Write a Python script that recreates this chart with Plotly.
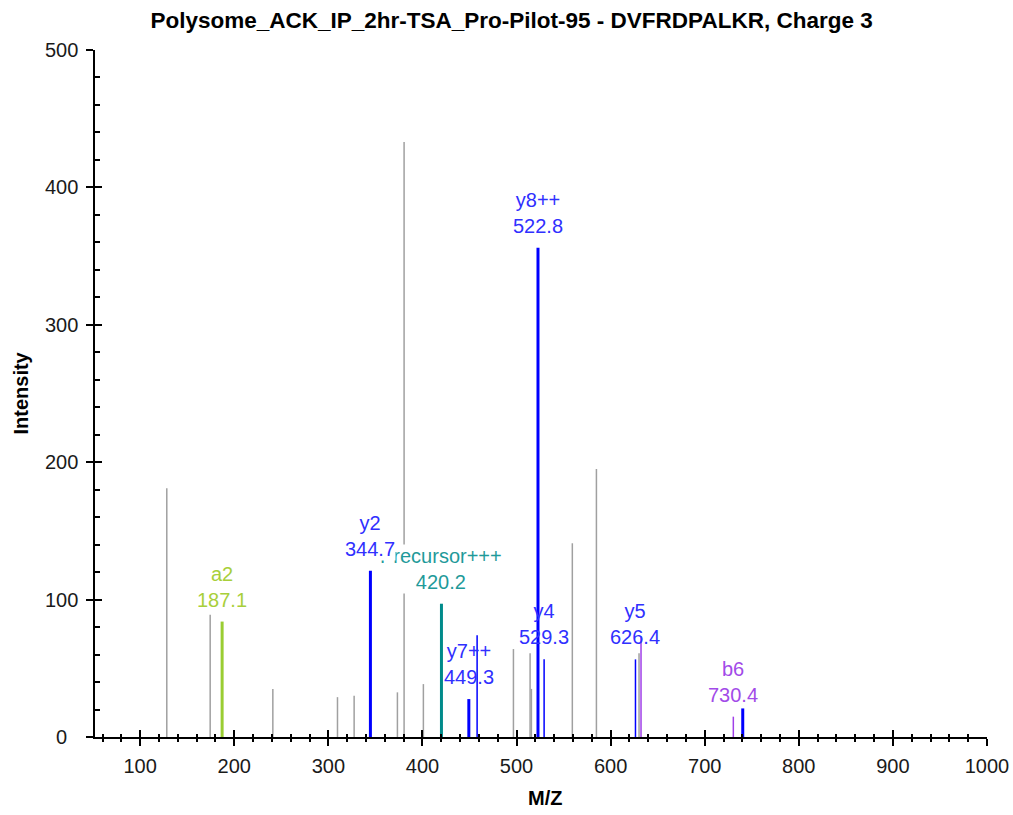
import plotly.graph_objects as go

# ---------------- data ----------------
title_text = "Polysome_ACK_IP_2hr-TSA_Pro-Pilot-95 - DVFRDPALKR, Charge 3"

# unmatched (gray) peaks
gray_mz = [128.3, 174.4, 241.0, 309.7, 327.4, 373.4, 380.5, 401.0,
           496.7, 514.4, 515.8, 559.3, 584.9, 630.2]
gray_int = [181, 89, 35, 29, 30, 32.5, 433, 38.5,
            64, 61, 35, 141, 195, 61]

# labelled, matched fragment peaks
ion_names = ["a2", "y2", "Precursor+++", "y7++", "y8++", "y4", "y5", "b6"]
ion_mz = [187.1, 344.7, 420.2, 449.3, 522.8, 529.3, 626.4, 730.4]
ion_int = [84, 121, 97, 27.6, 356, 56.5, 56.5, 14.8]

# matched peaks whose labels are not shown
extra_types = ["y", "b", "y"]
extra_mz = [458.1, 632.3, 740.4]
extra_int = [74, 73, 20.8]

x_ticks = [100, 200, 300, 400, 500, 600, 700, 800, 900, 1000]
y_ticks = [0, 100, 200, 300, 400, 500]

# ---------------- styles ----------------
FONT = "Liberation Sans, Arial, sans-serif"
GRAY = "#a0a0a0"
type_color = {"a": "#9acd32", "y": "#0000ff", "b": "#a040e8", "P": "#008b8b"}
label_color = {"a": "#a8cf3a", "y": "#3030ff", "b": "#a24be8", "P": "#1f9a9a"}
thick = {"a2", "y2", "Precursor+++", "y7++", "y8++", "extra2"}
opaque_labels = {"Precursor+++", "y2"}
draw_order = ["a2", "Precursor+++", "y2", "y7++", "y8++", "y4", "y5", "b6"]


def sticks(mzs, ints):
    xs, ys = [], []
    for m, v in zip(mzs, ints):
        xs += [m, m, None]
        ys += [0, v, None]
    return xs, ys


fig = go.Figure()

gx, gy = sticks(gray_mz, gray_int)
fig.add_trace(go.Scatter(x=gx, y=gy, mode="lines",
                         line=dict(color=GRAY, width=1.5),
                         hoverinfo="skip", showlegend=False))

for i, (t, m, v) in enumerate(zip(extra_types, extra_mz, extra_int)):
    xs, ys = sticks([m], [v])
    w = 3 if f"extra{i}" in thick else 1.5
    fig.add_trace(go.Scatter(x=xs, y=ys, mode="lines",
                             line=dict(color=type_color[t], width=w),
                             hoverinfo="skip", showlegend=False))

for name, m, v in zip(ion_names, ion_mz, ion_int):
    xs, ys = sticks([m], [v])
    w = 3 if name in thick else 1.5
    fig.add_trace(go.Scatter(x=xs, y=ys, mode="lines",
                             line=dict(color=type_color[name[0]], width=w),
                             hoverinfo="skip", showlegend=False))

# dummy trace for overlay axes (inner halves of ticks)
fig.add_trace(go.Scatter(x=[None], y=[None], xaxis="x2", yaxis="y2",
                         hoverinfo="skip", showlegend=False))

annotations = []
for name in draw_order:
    i = ion_names.index(name)
    m, v = ion_mz[i], ion_int[i]
    annotations.append(dict(
        x=m, y=v, xref="x", yref="y",
        text=f"{name}<br>{m:.1f}", showarrow=False,
        xanchor="center", yanchor="bottom", yshift=10,
        font=dict(family=FONT, size=20, color=label_color[name[0]]),
        bgcolor="white" if name in opaque_labels else "rgba(0,0,0,0)",
        borderpad=0,
    ))

for v in y_ticks:
    annotations.append(dict(
        x=0, xref="paper", y=v, yref="y", xshift=-34,
        text=str(v), showarrow=False, xanchor="center", yanchor="middle",
        font=dict(family=FONT, size=20, color="#1a1a1a"),
    ))

annotations.append(dict(
    x=0, xref="paper", y=0.5, yref="paper", xshift=-75,
    text="<b>Intensity</b>", textangle=-90, showarrow=False,
    xanchor="center", yanchor="middle",
    font=dict(family=FONT, size=20, color="black"),
))
annotations.append(dict(
    x=0.5, xref="paper", y=0, yref="paper", yshift=-61, xshift=4,
    text="<b>M/Z</b>", showarrow=False,
    xanchor="center", yanchor="middle",
    font=dict(family=FONT, size=20, color="black"),
))

XR = [52, 1000]
YR = [0, 500]

fig.update_layout(
    width=1013, height=815,
    margin=dict(l=95, r=26, t=50, b=78, autoexpand=False),
    paper_bgcolor="white", plot_bgcolor="white",
    title=dict(text=f"<b>{title_text}</b>", x=0.505, xanchor="center",
               y=1 - 20 / 815, yanchor="middle", yref="container",
               font=dict(family=FONT, size=22.5, color="black")),
    xaxis=dict(range=XR, tickvals=x_ticks, ticks="outside", ticklen=7,
               tickwidth=1.5, tickcolor="black", automargin=False,
               minor=dict(dtick=20, tick0=0, ticks="outside", ticklen=3,
                          tickwidth=1.5, tickcolor="black"),
               showline=True, linecolor="black", linewidth=2,
               showgrid=False, zeroline=False, ticklabelstandoff=3,
               tickfont=dict(family=FONT, size=20, color="#1a1a1a")),
    yaxis=dict(range=YR, tickvals=y_ticks, ticks="outside", ticklen=7,
               tickwidth=1.5, tickcolor="black", showticklabels=False,
               showline=True, linecolor="black", linewidth=2,
               showgrid=False, zeroline=False, automargin=False),
    xaxis2=dict(range=XR, overlaying="x", anchor="y", side="bottom",
                tickvals=x_ticks, ticks="inside", ticklen=7, tickwidth=1.5,
                tickcolor="black", automargin=False,
                minor=dict(dtick=20, tick0=0, ticks="inside", ticklen=3,
                           tickwidth=1.5, tickcolor="black"),
                showticklabels=False, showline=False, showgrid=False,
                zeroline=False),
    yaxis2=dict(range=YR, overlaying="y", anchor="x", side="left",
                tickvals=y_ticks, ticks="inside", ticklen=7, tickwidth=1.5,
                tickcolor="black", automargin=False,
                minor=dict(dtick=20, tick0=0, ticks="inside", ticklen=5,
                           tickwidth=1.5, tickcolor="black"),
                showticklabels=False, showline=False, showgrid=False,
                zeroline=False),
    annotations=annotations,
)

fig.write_html("out.html")
